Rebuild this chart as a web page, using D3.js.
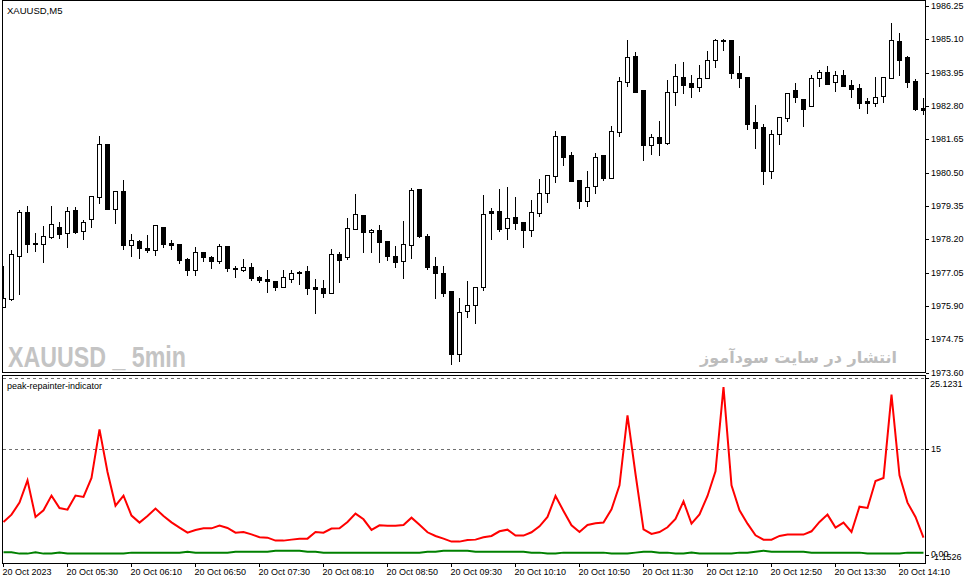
<!DOCTYPE html>
<html>
<head>
<meta charset="utf-8">
<script src="https://cdn.jsdelivr.net/npm/d3@7"></script>
<style>
  body { margin: 0; background: #fff; }
  svg { display: block; }
  text { font-family: "Liberation Sans", Arial, sans-serif; }
</style>
</head>
<body>
<div id="chart"></div>
<script>
// XAUUSD M5 candles, 04:50 .. 14:25
const opens = [1975.87,1976.14,1977.63,1979.15,1978.09,1978.04,1978.28,1978.63,1978.42,1979.21,
  1978.49,1978.90,1979.66,1981.49,1979.25,1979.87,1978.01,1978.15,1977.90,1977.83,
  1978.63,1978.08,1978.04,1977.52,1977.14,1977.77,1977.59,1977.46,1977.97,1977.21,
  1977.16,1977.25,1976.90,1976.83,1976.77,1976.56,1976.83,1977.08,1977.11,1976.56,
  1976.52,1976.35,1977.70,1977.59,1978.56,1979.04,1978.46,1978.52,1978.15,1977.63,
  1977.46,1978.01,1979.94,1978.32,1977.28,1977.04,1976.42,1974.25,1975.73,1975.94,
  1976.56,1979.18,1979.18,1978.59,1978.97,1978.80,1978.52,1979.11,1979.80,1980.39,
  1981.77,1981.11,1980.25,1979.53,1980.04,1981.11,1980.32,1981.91,1983.63,1984.53,
  1983.36,1981.46,1981.73,1981.53,1983.29,1983.80,1983.60,1983.46,1983.77,1984.39,
  1985.08,1985.08,1983.94,1983.80,1982.25,1982.08,1980.56,1981.84,1982.39,1983.36,
  1983.04,1982.80,1983.77,1983.98,1983.63,1983.87,1983.53,1983.42,1982.98,1982.91,
  1983.15,1983.77,1985.04,1984.49,1983.67,1982.73];
const highs = [1977.32,1977.87,1979.25,1979.39,1978.46,1978.70,1979.39,1978.84,1979.35,1979.35,
  1978.90,1979.73,1981.80,1981.50,1979.88,1980.28,1978.42,1978.21,1978.39,1978.71,
  1978.66,1978.21,1978.05,1977.59,1977.97,1977.80,1977.66,1978.08,1978.01,1977.32,
  1977.56,1977.42,1976.97,1977.18,1976.80,1977.18,1977.18,1977.14,1977.32,1976.87,
  1976.83,1977.90,1977.80,1978.97,1979.80,1979.08,1978.59,1978.73,1978.16,1978.01,
  1978.87,1980.01,1979.95,1978.42,1977.63,1977.32,1976.45,1976.21,1976.80,1976.57,
  1979.77,1979.32,1979.97,1980.04,1979.70,1978.84,1979.59,1980.32,1980.43,1981.97,
  1981.80,1981.25,1980.28,1980.59,1981.22,1981.15,1982.15,1983.84,1985.11,1984.70,
  1983.37,1981.87,1982.32,1983.73,1984.29,1984.36,1983.91,1984.25,1984.73,1985.15,
  1985.15,1985.11,1984.56,1983.81,1982.87,1982.22,1982.01,1982.46,1983.26,1983.63,
  1983.05,1983.91,1984.08,1984.22,1984.05,1984.08,1983.73,1983.60,1983.11,1983.84,
  1983.84,1985.70,1985.36,1984.56,1983.77,1983.11];
const lows = [1975.85,1976.12,1976.32,1977.77,1977.80,1977.42,1978.26,1978.25,1977.94,1978.42,
  1978.21,1978.63,1979.46,1979.24,1978.77,1977.87,1977.63,1977.56,1977.77,1977.66,
  1977.94,1977.87,1977.39,1976.97,1976.97,1977.46,1977.21,1977.39,1977.11,1976.90,
  1977.11,1976.80,1976.73,1976.39,1976.45,1976.55,1976.73,1976.66,1976.32,1975.66,
  1976.21,1976.34,1976.73,1977.52,1978.55,1977.77,1977.77,1977.42,1977.49,1977.25,
  1976.87,1977.56,1978.28,1977.18,1976.18,1976.25,1973.90,1974.01,1975.52,1975.32,
  1976.45,1978.20,1978.49,1978.21,1978.56,1977.94,1978.32,1979.01,1979.49,1980.18,
  1980.77,1980.21,1979.28,1979.35,1979.80,1980.25,1980.31,1981.77,1983.49,1983.28,
  1980.94,1981.15,1981.11,1981.49,1982.84,1983.25,1983.11,1983.32,1983.76,1984.15,
  1984.73,1983.77,1983.46,1982.01,1981.35,1980.11,1980.32,1981.49,1982.28,1982.94,
  1982.11,1982.79,1983.49,1983.55,1983.32,1983.48,1983.11,1982.73,1982.56,1982.80,
  1982.94,1983.76,1983.87,1983.46,1982.66,1982.53];
const closes = [1976.18,1977.70,1979.15,1978.04,1978.04,1978.32,1978.73,1978.39,1979.18,1978.46,
  1978.80,1979.70,1981.49,1979.25,1979.87,1978.01,1978.18,1977.90,1977.83,1978.70,
  1978.04,1978.01,1977.49,1977.14,1977.77,1977.59,1977.46,1977.97,1977.21,1977.18,
  1977.24,1976.87,1976.80,1976.77,1976.56,1976.90,1977.04,1977.03,1976.52,1976.49,
  1976.35,1977.70,1977.49,1978.59,1979.08,1978.46,1978.52,1978.11,1977.63,1977.42,
  1978.04,1979.90,1978.32,1977.25,1977.04,1976.35,1974.25,1975.70,1975.94,1976.56,
  1979.08,1979.12,1978.56,1978.94,1978.77,1978.52,1979.15,1979.80,1980.42,1981.77,
  1981.04,1980.22,1979.53,1980.01,1981.04,1980.32,1981.94,1983.67,1984.49,1983.29,
  1981.46,1981.73,1981.53,1983.29,1983.84,1983.53,1983.46,1983.77,1984.39,1985.08,
  1985.04,1983.94,1983.77,1982.18,1982.04,1980.56,1981.84,1982.42,1983.25,1983.11,
  1982.70,1983.77,1983.98,1983.56,1983.87,1983.49,1983.39,1982.91,1982.91,1983.11,
  1983.80,1985.08,1984.39,1983.63,1982.70,1982.66];

// peak-repainter-indicator buffers
const peakLine = [4.67,5.71,7.41,10.57,5.38,6.32,8.40,6.65,6.42,8.40,
  8.21,10.90,17.78,11.75,6.98,8.40,5.57,4.58,5.52,6.56,
  5.52,4.62,3.87,3.16,3.54,3.77,3.77,4.15,3.82,3.16,
  3.25,2.92,2.50,2.45,2.03,2.03,2.17,2.31,2.31,3.25,
  3.16,3.73,3.77,4.67,5.85,5.05,3.54,4.20,4.15,4.15,
  4.25,5.28,4.29,3.21,2.69,2.31,1.89,1.89,2.12,2.17,
  2.50,2.69,3.35,3.58,2.74,2.74,3.21,4.06,5.38,8.35,
  6.23,4.20,3.25,4.25,4.48,4.58,6.46,9.86,19.76,11.46,
  3.63,2.97,3.25,3.92,5.09,7.59,4.43,5.75,8.35,11.84,
  23.77,9.86,6.32,4.43,2.78,2.17,2.17,2.69,2.88,2.88,
  2.88,3.35,4.67,5.71,3.87,4.58,3.25,6.84,6.65,10.47,
  10.90,22.69,11.27,7.41,5.38,2.45];
const baseLine = [.38,.38,.19,.19,.38,.19,.19,.33,.19,.19,
  .19,.19,.19,.19,.19,.19,.33,.33,.33,.33,
  .33,.33,.33,.47,.33,.33,.33,.33,.33,.47,
  .47,.47,.47,.47,.61,.61,.61,.61,.47,.47,
  .33,.33,.33,.33,.33,.33,.33,.33,.33,.33,
  .33,.33,.33,.47,.47,.61,.61,.61,.61,.47,
  .47,.47,.47,.47,.47,.47,.33,.33,.19,.19,
  .33,.33,.33,.33,.33,.33,.19,.19,.19,.33,
  .47,.47,.33,.33,.19,.19,.33,.19,.19,.19,
  .19,.19,.33,.33,.47,.61,.47,.47,.47,.47,
  .47,.33,.33,.33,.33,.33,.33,.33,.19,.19,
  .19,.19,.19,.33,.33,.33];

const priceTicks = [1986.25,1985.10,1983.95,1982.80,1981.65,1980.50,1979.35,1978.20,1977.05,1975.90,1974.75,1973.60];
const indLevels = [15, 25];
const timeLabels = ["20 Oct 2023","20 Oct 05:30","20 Oct 06:10","20 Oct 06:50","20 Oct 07:30","20 Oct 08:10","20 Oct 08:50",
  "20 Oct 09:30","20 Oct 10:10","20 Oct 10:50","20 Oct 11:30","20 Oct 12:10","20 Oct 12:50","20 Oct 13:30","20 Oct 14:10"];
const labelEvery = 8; // one time label every 8 bars (40 min)

const width = 972, height = 584;
const left = 2.5, right = 925.5;
const mainTop = 0.5, mainBottom = 372.5;
const indTop = 375.5, indBottom = 563.5;

const svg = d3.select('#chart').append('svg')
  .attr('width', width).attr('height', height);

const x = d3.scaleLinear().domain([0, opens.length - 1]).range([3.5, 923.5]);
const y = d3.scaleLinear().domain([1973.60, 1986.25]).range([372.7, 6]);
const yInd = d3.scaleLinear().domain([-1.1526, 25.1231]).range([563.1, 377.5]);

const defs = svg.append('defs');
defs.append('clipPath').attr('id', 'clipMain').append('rect')
  .attr('x', left).attr('y', mainTop).attr('width', right - left).attr('height', mainBottom - mainTop);
defs.append('clipPath').attr('id', 'clipInd').append('rect')
  .attr('x', left).attr('y', indTop).attr('width', right - left).attr('height', indBottom - indTop);

// watermarks
svg.append('text')
  .attr('x', 8).attr('y', 367)
  .attr('textLength', 178).attr('lengthAdjust', 'spacingAndGlyphs')
  .style('font-family', '"Liberation Sans Narrow", "Liberation Sans", sans-serif')
  .style('font-weight', 'bold').style('font-size', '30px')
  .attr('fill', '#c4c4c4')
  .text('XAUUSD _ 5min');

svg.append('text')
  .attr('x', 897).attr('y', 363)
  .attr('text-anchor', 'end')
  .style('font-family', '"DejaVu Sans", sans-serif')
  .style('font-weight', 'bold').style('font-size', '16px')
  .attr('fill', '#bdbdbd')
  .text('انتشار در سایت سودآموز');

// candles
const candles = svg.append('g').attr('clip-path', 'url(#clipMain)')
  .attr('shape-rendering', 'crispEdges');
const idx = d3.range(opens.length);

candles.selectAll('line.wick').data(idx).enter().append('line')
  .attr('class', 'wick')
  .attr('x1', i => x(i)).attr('x2', i => x(i))
  .attr('y1', i => Math.round(y(highs[i])) + 0.5)
  .attr('y2', i => Math.round(y(lows[i])) + 0.5)
  .attr('stroke', '#000').attr('stroke-width', 1);

candles.selectAll('rect.body').data(idx).enter().append('rect')
  .attr('class', 'body')
  .attr('x', i => x(i) - 2)
  .attr('width', 4)
  .attr('y', i => Math.round(y(Math.max(opens[i], closes[i]))) + 0.5)
  .attr('height', i => Math.max(1, Math.round(y(Math.min(opens[i], closes[i]))) - Math.round(y(Math.max(opens[i], closes[i])))))
  .attr('fill', i => closes[i] >= opens[i] ? '#fff' : '#000')
  .attr('stroke', '#000').attr('stroke-width', 1);

// indicator
const ind = svg.append('g').attr('clip-path', 'url(#clipInd)');
ind.selectAll('line.level').data(indLevels).enter().append('line')
  .attr('class', 'level')
  .attr('x1', left).attr('x2', right)
  .attr('y1', d => Math.round(yInd(d)) + 0.5).attr('y2', d => Math.round(yInd(d)) + 0.5)
  .attr('stroke', '#707070').attr('stroke-dasharray', '3,3')
  .attr('shape-rendering', 'crispEdges');

const line = d3.line().x((d, i) => x(i));
ind.append('path')
  .attr('d', line.y(d => yInd(d))(baseLine))
  .attr('fill', 'none').attr('stroke', '#008000').attr('stroke-width', 2);
ind.append('path')
  .attr('d', line.y(d => yInd(d))(peakLine))
  .attr('fill', 'none').attr('stroke', '#ff0000').attr('stroke-width', 2);

// frames
svg.append('rect').attr('x', left).attr('y', mainTop)
  .attr('width', right - left).attr('height', mainBottom - mainTop)
  .attr('fill', 'none').attr('stroke', '#000').attr('shape-rendering', 'crispEdges');
svg.append('rect').attr('x', left).attr('y', indTop)
  .attr('width', right - left).attr('height', indBottom - indTop)
  .attr('fill', 'none').attr('stroke', '#000').attr('shape-rendering', 'crispEdges');

// titles
svg.append('text').attr('x', 7).attr('y', 11).attr('dominant-baseline', 'middle')
  .style('font-size', '9.5px').text('XAUUSD,M5');
svg.append('text').attr('x', 7).attr('y', 387).attr('dominant-baseline', 'middle')
  .style('font-size', '9px').text('peak-repainter-indicator');

// price axis
const pAxis = svg.append('g');
priceTicks.forEach(v => {
  const yy = Math.round(y(v)) + 0.5;
  pAxis.append('line').attr('x1', right).attr('x2', 929).attr('y1', yy).attr('y2', yy)
    .attr('stroke', '#000').attr('shape-rendering', 'crispEdges');
  pAxis.append('text').attr('x', 931).attr('y', yy).attr('dominant-baseline', 'middle')
    .style('font-size', '9px').text(v.toFixed(2));
});

// indicator axis
const iAxis = svg.append('g');
[25.1231, 15, 0].forEach(v => {
  const yy = Math.round(yInd(v)) + 0.5;
  iAxis.append('line').attr('x1', right).attr('x2', 929).attr('y1', yy).attr('y2', yy)
    .attr('stroke', '#000').attr('shape-rendering', 'crispEdges');
});
iAxis.append('text').attr('x', 930).attr('y', 385).attr('dominant-baseline', 'middle')
  .style('font-size', '9px').text('25.1231');
iAxis.append('text').attr('x', 931).attr('y', Math.round(yInd(15)) + 0.5).attr('dominant-baseline', 'middle')
  .style('font-size', '9px').text('15');
// MT4 draws the window minimum on top of the zero label
iAxis.append('text').attr('x', 931).attr('y', Math.round(yInd(0))).attr('dominant-baseline', 'middle')
  .style('font-size', '9px').text('0.00');
iAxis.append('text').attr('x', 931).attr('y', Math.round(yInd(0)) + 3).attr('dominant-baseline', 'middle')
  .style('font-size', '9px').text('-1.1526');

// time axis
const tAxis = svg.append('g');
timeLabels.forEach((t, k) => {
  const xx = x(k * labelEvery);
  tAxis.append('line').attr('x1', xx).attr('x2', xx).attr('y1', indBottom).attr('y2', 567)
    .attr('stroke', '#000').attr('shape-rendering', 'crispEdges');
  tAxis.append('text').attr('x', xx - 1).attr('y', 573).attr('dominant-baseline', 'middle')
    .style('font-size', '9px').text(t);
});
</script>
</body>
</html>
